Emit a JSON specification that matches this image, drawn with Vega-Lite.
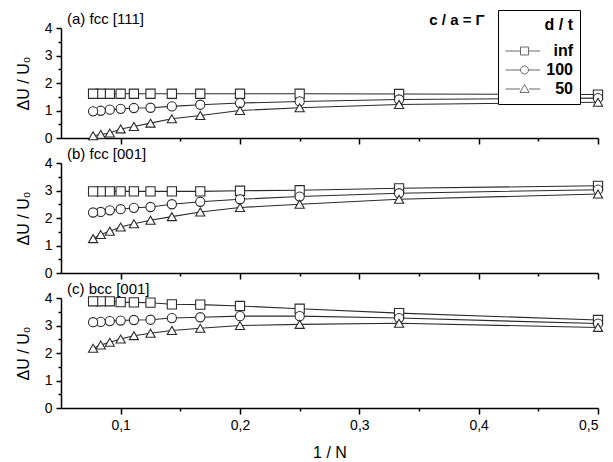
{
  "$schema": "https://vega.github.io/schema/vega-lite/v6.json",
  "background": "white",
  "padding": {"left": 15, "top": 9, "right": 5, "bottom": 5},
  "bounds": "flush",
  "spacing": 25,
  "datasets": {
    "pts": [
      {"panel": "a", "dt": "inf", "x": 0.5, "v": 1.58},
      {"panel": "a", "dt": "inf", "x": 0.3333, "v": 1.6},
      {"panel": "a", "dt": "inf", "x": 0.25, "v": 1.61},
      {"panel": "a", "dt": "inf", "x": 0.2, "v": 1.61},
      {"panel": "a", "dt": "inf", "x": 0.1667, "v": 1.61},
      {"panel": "a", "dt": "inf", "x": 0.1429, "v": 1.61},
      {"panel": "a", "dt": "inf", "x": 0.125, "v": 1.61},
      {"panel": "a", "dt": "inf", "x": 0.1111, "v": 1.61},
      {"panel": "a", "dt": "inf", "x": 0.1, "v": 1.61},
      {"panel": "a", "dt": "inf", "x": 0.0909, "v": 1.61},
      {"panel": "a", "dt": "inf", "x": 0.0833, "v": 1.61},
      {"panel": "a", "dt": "inf", "x": 0.0769, "v": 1.61},
      {"panel": "a", "dt": "100", "x": 0.5, "v": 1.45},
      {"panel": "a", "dt": "100", "x": 0.3333, "v": 1.4},
      {"panel": "a", "dt": "100", "x": 0.25, "v": 1.33},
      {"panel": "a", "dt": "100", "x": 0.2, "v": 1.27},
      {"panel": "a", "dt": "100", "x": 0.1667, "v": 1.21},
      {"panel": "a", "dt": "100", "x": 0.1429, "v": 1.15},
      {"panel": "a", "dt": "100", "x": 0.125, "v": 1.1},
      {"panel": "a", "dt": "100", "x": 0.1111, "v": 1.09},
      {"panel": "a", "dt": "100", "x": 0.1, "v": 1.06},
      {"panel": "a", "dt": "100", "x": 0.0909, "v": 1.03},
      {"panel": "a", "dt": "100", "x": 0.0833, "v": 0.99},
      {"panel": "a", "dt": "100", "x": 0.0769, "v": 0.97},
      {"panel": "a", "dt": "50", "x": 0.5, "v": 1.3},
      {"panel": "a", "dt": "50", "x": 0.3333, "v": 1.22},
      {"panel": "a", "dt": "50", "x": 0.25, "v": 1.1},
      {"panel": "a", "dt": "50", "x": 0.2, "v": 1.0},
      {"panel": "a", "dt": "50", "x": 0.1667, "v": 0.82},
      {"panel": "a", "dt": "50", "x": 0.1429, "v": 0.7},
      {"panel": "a", "dt": "50", "x": 0.125, "v": 0.54},
      {"panel": "a", "dt": "50", "x": 0.1111, "v": 0.42},
      {"panel": "a", "dt": "50", "x": 0.1, "v": 0.33},
      {"panel": "a", "dt": "50", "x": 0.0909, "v": 0.18},
      {"panel": "a", "dt": "50", "x": 0.0833, "v": 0.13},
      {"panel": "a", "dt": "50", "x": 0.0769, "v": 0.08},
      {"panel": "b", "dt": "inf", "x": 0.5, "v": 3.17},
      {"panel": "b", "dt": "inf", "x": 0.3333, "v": 3.08},
      {"panel": "b", "dt": "inf", "x": 0.25, "v": 3.01},
      {"panel": "b", "dt": "inf", "x": 0.2, "v": 2.99},
      {"panel": "b", "dt": "inf", "x": 0.1667, "v": 2.97},
      {"panel": "b", "dt": "inf", "x": 0.1429, "v": 2.97},
      {"panel": "b", "dt": "inf", "x": 0.125, "v": 2.97},
      {"panel": "b", "dt": "inf", "x": 0.1111, "v": 2.97},
      {"panel": "b", "dt": "inf", "x": 0.1, "v": 2.97},
      {"panel": "b", "dt": "inf", "x": 0.0909, "v": 2.97},
      {"panel": "b", "dt": "inf", "x": 0.0833, "v": 2.97},
      {"panel": "b", "dt": "inf", "x": 0.0769, "v": 2.97},
      {"panel": "b", "dt": "100", "x": 0.5, "v": 3.03},
      {"panel": "b", "dt": "100", "x": 0.3333, "v": 2.9},
      {"panel": "b", "dt": "100", "x": 0.25, "v": 2.78},
      {"panel": "b", "dt": "100", "x": 0.2, "v": 2.68},
      {"panel": "b", "dt": "100", "x": 0.1667, "v": 2.59},
      {"panel": "b", "dt": "100", "x": 0.1429, "v": 2.5},
      {"panel": "b", "dt": "100", "x": 0.125, "v": 2.4},
      {"panel": "b", "dt": "100", "x": 0.1111, "v": 2.37},
      {"panel": "b", "dt": "100", "x": 0.1, "v": 2.32},
      {"panel": "b", "dt": "100", "x": 0.0909, "v": 2.28},
      {"panel": "b", "dt": "100", "x": 0.0833, "v": 2.22},
      {"panel": "b", "dt": "100", "x": 0.0769, "v": 2.2},
      {"panel": "b", "dt": "50", "x": 0.5, "v": 2.87},
      {"panel": "b", "dt": "50", "x": 0.3333, "v": 2.68},
      {"panel": "b", "dt": "50", "x": 0.25, "v": 2.5},
      {"panel": "b", "dt": "50", "x": 0.2, "v": 2.38},
      {"panel": "b", "dt": "50", "x": 0.1667, "v": 2.22},
      {"panel": "b", "dt": "50", "x": 0.1429, "v": 2.05},
      {"panel": "b", "dt": "50", "x": 0.125, "v": 1.92},
      {"panel": "b", "dt": "50", "x": 0.1111, "v": 1.79},
      {"panel": "b", "dt": "50", "x": 0.1, "v": 1.67},
      {"panel": "b", "dt": "50", "x": 0.0909, "v": 1.52},
      {"panel": "b", "dt": "50", "x": 0.0833, "v": 1.4},
      {"panel": "b", "dt": "50", "x": 0.0769, "v": 1.25},
      {"panel": "c", "dt": "inf", "x": 0.5, "v": 3.2},
      {"panel": "c", "dt": "inf", "x": 0.3333, "v": 3.45},
      {"panel": "c", "dt": "inf", "x": 0.25, "v": 3.61},
      {"panel": "c", "dt": "inf", "x": 0.2, "v": 3.71},
      {"panel": "c", "dt": "inf", "x": 0.1667, "v": 3.76},
      {"panel": "c", "dt": "inf", "x": 0.1429, "v": 3.77},
      {"panel": "c", "dt": "inf", "x": 0.125, "v": 3.83},
      {"panel": "c", "dt": "inf", "x": 0.1111, "v": 3.84},
      {"panel": "c", "dt": "inf", "x": 0.1, "v": 3.85},
      {"panel": "c", "dt": "inf", "x": 0.0909, "v": 3.88},
      {"panel": "c", "dt": "inf", "x": 0.0833, "v": 3.88},
      {"panel": "c", "dt": "inf", "x": 0.0769, "v": 3.88},
      {"panel": "c", "dt": "100", "x": 0.5, "v": 3.07},
      {"panel": "c", "dt": "100", "x": 0.3333, "v": 3.27},
      {"panel": "c", "dt": "100", "x": 0.25, "v": 3.34},
      {"panel": "c", "dt": "100", "x": 0.2, "v": 3.34},
      {"panel": "c", "dt": "100", "x": 0.1667, "v": 3.3},
      {"panel": "c", "dt": "100", "x": 0.1429, "v": 3.27},
      {"panel": "c", "dt": "100", "x": 0.125, "v": 3.21},
      {"panel": "c", "dt": "100", "x": 0.1111, "v": 3.2},
      {"panel": "c", "dt": "100", "x": 0.1, "v": 3.18},
      {"panel": "c", "dt": "100", "x": 0.0909, "v": 3.16},
      {"panel": "c", "dt": "100", "x": 0.0833, "v": 3.13},
      {"panel": "c", "dt": "100", "x": 0.0769, "v": 3.12},
      {"panel": "c", "dt": "50", "x": 0.5, "v": 2.93},
      {"panel": "c", "dt": "50", "x": 0.3333, "v": 3.08},
      {"panel": "c", "dt": "50", "x": 0.25, "v": 3.04},
      {"panel": "c", "dt": "50", "x": 0.2, "v": 3.0},
      {"panel": "c", "dt": "50", "x": 0.1667, "v": 2.9},
      {"panel": "c", "dt": "50", "x": 0.1429, "v": 2.82},
      {"panel": "c", "dt": "50", "x": 0.125, "v": 2.72},
      {"panel": "c", "dt": "50", "x": 0.1111, "v": 2.63},
      {"panel": "c", "dt": "50", "x": 0.1, "v": 2.51},
      {"panel": "c", "dt": "50", "x": 0.0909, "v": 2.39},
      {"panel": "c", "dt": "50", "x": 0.0833, "v": 2.29},
      {"panel": "c", "dt": "50", "x": 0.0769, "v": 2.17}
    ]
  },
  "resolve": {"scale": {"shape": "independent"}},
  "vconcat": [
    {
      "width": 537,
      "height": 110,
      "resolve": {"scale": {"shape": "independent"}},
      "layer": [
        {
          "data": {"name": "pts"},
          "transform": [{"filter": "datum.panel === 'a'"}],
          "mark": {"type": "line", "color": "#2a2a2a", "strokeWidth": 1.1},
          "encoding": {
            "x": {"field": "x", "type": "quantitative", "scale": {"domain": [0.05, 0.5], "nice": false, "zero": false},
              "axis": {"title": null, "labels": false, "tickCount": 30, "values": [0.1, 0.15, 0.2, 0.25, 0.3, 0.35, 0.4, 0.45, 0.5],
                "tickSize": {"condition": {"test": "abs(datum.value*10 - round(datum.value*10)) < 0.001", "value": 6}, "value": 3}}},
            "y": {"field": "v", "type": "quantitative", "scale": {"domain": [0, 4], "nice": false},
              "axis": {"title": "ΔU / U₀", "tickCount": 30, "values": [0, 0.5, 1, 1.5, 2, 2.5, 3, 3.5, 4], "labelOverlap": false,
                "labelExpr": "datum.value % 1 === 0 ? format(datum.value, 'd') : ''",
                "tickSize": {"condition": {"test": "datum.value % 1 === 0", "value": 5}, "value": 3}}},
            "detail": {"field": "dt"}
          }
        },
        {
          "data": {"name": "pts"},
          "transform": [{"filter": "datum.panel === 'a'"}],
          "mark": {"type": "point", "filled": true, "fill": "white", "stroke": "#2a2a2a", "strokeWidth": 1.1, "size": 85, "opacity": 1},
          "encoding": {
            "x": {"field": "x", "type": "quantitative"},
            "y": {"field": "v", "type": "quantitative"},
            "shape": {"field": "dt", "type": "nominal", "scale": {"domain": ["inf", "100", "50"], "range": ["square", "circle", "triangle-up"]}, "legend": null}
          }
        },
        {
          "data": {"name": "pts"},
          "transform": [{"filter": "datum.v > 100"}],
          "mark": {"type": "point", "color": "#2a2a2a", "strokeWidth": 1},
          "encoding": {
            "x": {"field": "x", "type": "quantitative"},
            "y": {"field": "v", "type": "quantitative"},
            "shape": {"field": "dt", "type": "nominal",
              "scale": {"domain": ["inf", "100", "50"], "range": [
                "M-1,0H0.58M1.42,0H2.65M0.58,-0.42H1.42V0.42H0.58Z",
                "M-1,0H0.58M1.42,0H2.65M0.58,0A0.42,0.42,0,1,0,1.42,0A0.42,0.42,0,1,0,0.58,0Z",
                "M-1,0H0.52M1.48,0H2.65M1,-0.48L1.48,0.36L0.52,0.36Z"]},
              "legend": {
                "orient": "none", "legendX": 437, "legendY": -18,
                "title": "d / t", "titleAlign": "right", "titleAnchor": "end", "titleFontSize": 16, "titleFontWeight": "bold", "titleColor": "black", "titlePadding": 8,
                "labelFontSize": 16, "labelFontWeight": "bold", "labelColor": "black", "labelAlign": "right", "labelOffset": 48,
                "symbolSize": 361, "symbolStrokeWidth": 1, "symbolStrokeColor": "#2a2a2a", "symbolFillColor": "white",
                "rowPadding": 1, "strokeColor": "black", "fillColor": "white", "padding": 7
              }}
          }
        },
        {
          "data": {"values": [{"label": "(a) fcc [111]"}]},
          "mark": {"type": "text", "align": "left", "baseline": "bottom", "fontSize": 15, "dx": 6, "dy": -1, "color": "black"},
          "encoding": {
            "x": {"datum": 0.05, "type": "quantitative"},
            "y": {"datum": 4, "type": "quantitative"},
            "text": {"field": "label"}
          }
        },
        {
          "data": {"values": [{"label": "c / a = Γ"}]},
          "mark": {"type": "text", "align": "right", "baseline": "middle", "fontSize": 15, "fontWeight": "bold", "color": "black"},
          "encoding": {
            "x": {"datum": 0.405, "type": "quantitative"},
            "y": {"datum": 4.29, "type": "quantitative"},
            "text": {"field": "label"}
          }
        }
      ]
    },
    {
      "width": 537,
      "height": 110,
      "layer": [
        {
          "data": {"name": "pts"},
          "transform": [{"filter": "datum.panel === 'b'"}],
          "mark": {"type": "line", "color": "#2a2a2a", "strokeWidth": 1.1},
          "encoding": {
            "x": {"field": "x", "type": "quantitative", "scale": {"domain": [0.05, 0.5], "nice": false, "zero": false},
              "axis": {"title": null, "labels": false, "tickCount": 30, "values": [0.1, 0.15, 0.2, 0.25, 0.3, 0.35, 0.4, 0.45, 0.5],
                "tickSize": {"condition": {"test": "abs(datum.value*10 - round(datum.value*10)) < 0.001", "value": 6}, "value": 3}}},
            "y": {"field": "v", "type": "quantitative", "scale": {"domain": [0, 4], "nice": false},
              "axis": {"title": "ΔU / U₀", "tickCount": 30, "values": [0, 0.5, 1, 1.5, 2, 2.5, 3, 3.5, 4], "labelOverlap": false,
                "labelExpr": "datum.value % 1 === 0 ? format(datum.value, 'd') : ''",
                "tickSize": {"condition": {"test": "datum.value % 1 === 0", "value": 5}, "value": 3}}},
            "detail": {"field": "dt"}
          }
        },
        {
          "data": {"name": "pts"},
          "transform": [{"filter": "datum.panel === 'b'"}],
          "mark": {"type": "point", "filled": true, "fill": "white", "stroke": "#2a2a2a", "strokeWidth": 1.1, "size": 85, "opacity": 1},
          "encoding": {
            "x": {"field": "x", "type": "quantitative"},
            "y": {"field": "v", "type": "quantitative"},
            "shape": {"field": "dt", "type": "nominal", "scale": {"domain": ["inf", "100", "50"], "range": ["square", "circle", "triangle-up"]}, "legend": null}
          }
        },
        {
          "data": {"values": [{"label": "(b) fcc [001]"}]},
          "mark": {"type": "text", "align": "left", "baseline": "bottom", "fontSize": 15, "dx": 6, "dy": -1, "color": "black"},
          "encoding": {
            "x": {"datum": 0.05, "type": "quantitative"},
            "y": {"datum": 4, "type": "quantitative"},
            "text": {"field": "label"}
          }
        }
      ]
    },
    {
      "width": 537,
      "height": 110,
      "layer": [
        {
          "data": {"name": "pts"},
          "transform": [{"filter": "datum.panel === 'c'"}],
          "mark": {"type": "line", "color": "#2a2a2a", "strokeWidth": 1.1},
          "encoding": {
            "x": {"field": "x", "type": "quantitative", "scale": {"domain": [0.05, 0.5], "nice": false, "zero": false},
              "axis": {"title": "1 / N", "titlePadding": 12, "tickCount": 30, "values": [0.1, 0.15, 0.2, 0.25, 0.3, 0.35, 0.4, 0.45, 0.5], "labelOverlap": false,
                "labelExpr": "abs(datum.value*10 - round(datum.value*10)) < 0.001 ? replace(format(datum.value, '.1f'), '.', ',') : ''",
                "tickSize": {"condition": {"test": "abs(datum.value*10 - round(datum.value*10)) < 0.001", "value": 6}, "value": 3}}},
            "y": {"field": "v", "type": "quantitative", "scale": {"domain": [0, 4], "nice": false},
              "axis": {"title": "ΔU / U₀", "tickCount": 30, "values": [0, 0.5, 1, 1.5, 2, 2.5, 3, 3.5, 4], "labelOverlap": false,
                "labelExpr": "datum.value % 1 === 0 ? format(datum.value, 'd') : ''",
                "tickSize": {"condition": {"test": "datum.value % 1 === 0", "value": 5}, "value": 3}}},
            "detail": {"field": "dt"}
          }
        },
        {
          "data": {"name": "pts"},
          "transform": [{"filter": "datum.panel === 'c'"}],
          "mark": {"type": "point", "filled": true, "fill": "white", "stroke": "#2a2a2a", "strokeWidth": 1.1, "size": 85, "opacity": 1},
          "encoding": {
            "x": {"field": "x", "type": "quantitative"},
            "y": {"field": "v", "type": "quantitative"},
            "shape": {"field": "dt", "type": "nominal", "scale": {"domain": ["inf", "100", "50"], "range": ["square", "circle", "triangle-up"]}, "legend": null}
          }
        },
        {
          "data": {"values": [{"label": "(c) bcc [001]"}]},
          "mark": {"type": "text", "align": "left", "baseline": "bottom", "fontSize": 15, "dx": 6, "dy": -1, "color": "black"},
          "encoding": {
            "x": {"datum": 0.05, "type": "quantitative"},
            "y": {"datum": 4, "type": "quantitative"},
            "text": {"field": "label"}
          }
        }
      ]
    }
  ],
  "config": {
    "view": {"stroke": null},
    "font": "Liberation Sans",
    "axis": {
      "domainColor": "black", "domainWidth": 1.5, "tickColor": "black", "tickWidth": 1.5,
      "labelColor": "black", "labelFontSize": 14, "labelFont": "Liberation Sans",
      "titleColor": "black", "titleFontSize": 16, "titleFontWeight": "normal", "titleFont": "Liberation Sans",
      "grid": false, "labelPadding": 4, "titlePadding": 8
    },
    "axisY": {"titlePadding": 13},
    "legend": {"labelFont": "Liberation Sans", "titleFont": "Liberation Sans"}
  }
}
